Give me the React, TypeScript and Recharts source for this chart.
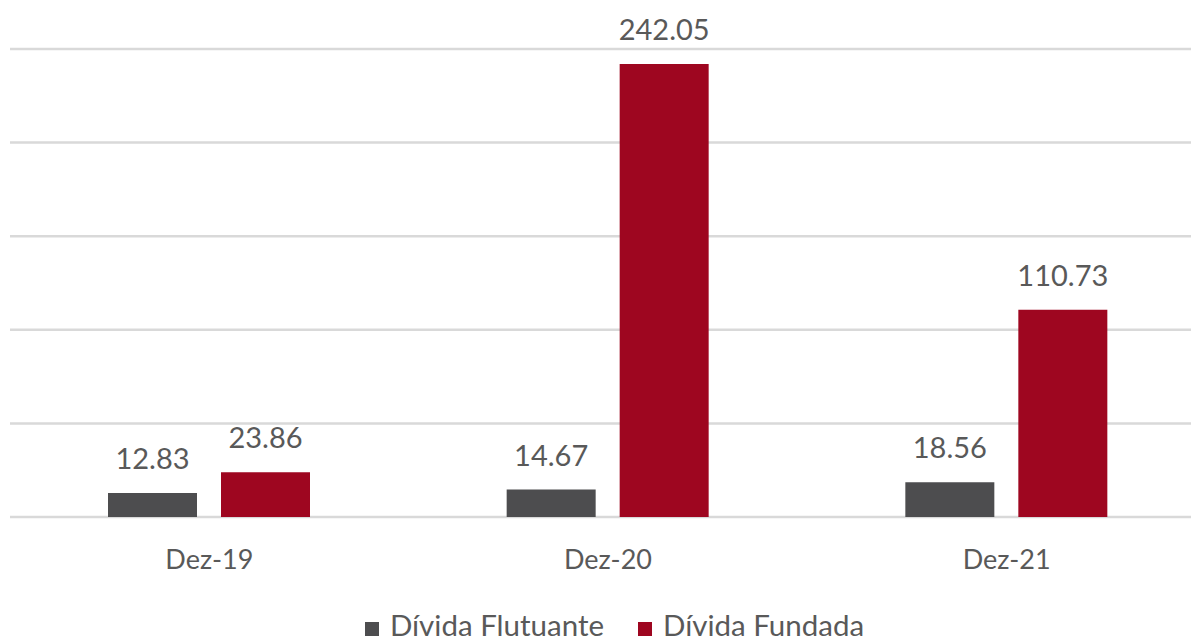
import { Bar, BarChart, CartesianGrid, LabelList, Legend, XAxis, YAxis } from "recharts";

const categories = ["Dez-19", "Dez-20", "Dez-21"];
const flutuante = [12.83, 14.67, 18.56];
const fundada = [23.86, 242.05, 110.73];
const yTicks = [0, 50, 100, 150, 200, 250];

const series = [
  { key: "flutuante", name: "Dívida Flutuante", color: "#4d4d4f" },
  { key: "fundada", name: "Dívida Fundada", color: "#9e0620" },
];

const data = categories.map((cat, i) => ({
  cat,
  flutuante: flutuante[i],
  fundada: fundada[i],
}));

const FONT = "Lato, 'Open Sans', sans-serif";
const INK = "#595959";

const fmt = (v: number) => v.toFixed(2);

const CustomLegend = () => (
  <div
    style={{
      height: 36,
      display: "flex",
      justifyContent: "center",
      alignItems: "flex-start",
      paddingLeft: 13,
      paddingTop: 4,
      boxSizing: "border-box",
      fontFamily: FONT,
      fontSize: 29.5,
      color: INK,
    }}
  >
    {series.map((s, i) => (
      <div key={s.key} style={{ display: "flex", alignItems: "center", height: 30, marginLeft: i ? 34 : 0 }}>
        <span style={{ width: 14, height: 14, background: s.color, marginRight: 11, marginTop: 8 }} />
        <span style={{ lineHeight: "30px" }}>{s.name}</span>
      </div>
    ))}
  </div>
);

const CatTick = ({ x, y, payload }: { x?: number; y?: number; payload?: { value: string } }) => (
  <text x={x} y={(y ?? 0) + 44} textAnchor="middle" fill={INK} fontSize={27} fontFamily={FONT}>
    {payload?.value}
  </text>
);

export default function App() {
  return (
    <div style={{ position: "absolute", left: 0, top: 0, width: 1191, height: 642, overflow: "hidden", background: "#fff" }}>
      <BarChart
        width={1206}
        height={642}
        data={data}
        margin={{ top: 49, right: 0, left: 10, bottom: 0 }}
        barSize={89}
        barGap={24}
      >
        <CartesianGrid horizontal vertical={false} stroke="#d9d9d9" strokeWidth={2.5} />
        <XAxis dataKey="cat" axisLine={false} tickLine={false} height={89} tick={<CatTick />} interval={0} />
        <YAxis hide domain={[0, 250]} ticks={yTicks} />
        <Legend verticalAlign="bottom" content={<CustomLegend />} />
        {series.map((s) => (
          <Bar key={s.key} dataKey={s.key} name={s.name} fill={s.color} isAnimationActive={false}>
            <LabelList
              dataKey={s.key}
              position="top"
              offset={24}
              formatter={(v: number) => fmt(v)}
              fill={INK}
              fontSize={29}
              fontFamily={FONT}
            />
          </Bar>
        ))}
      </BarChart>
    </div>
  );
}
